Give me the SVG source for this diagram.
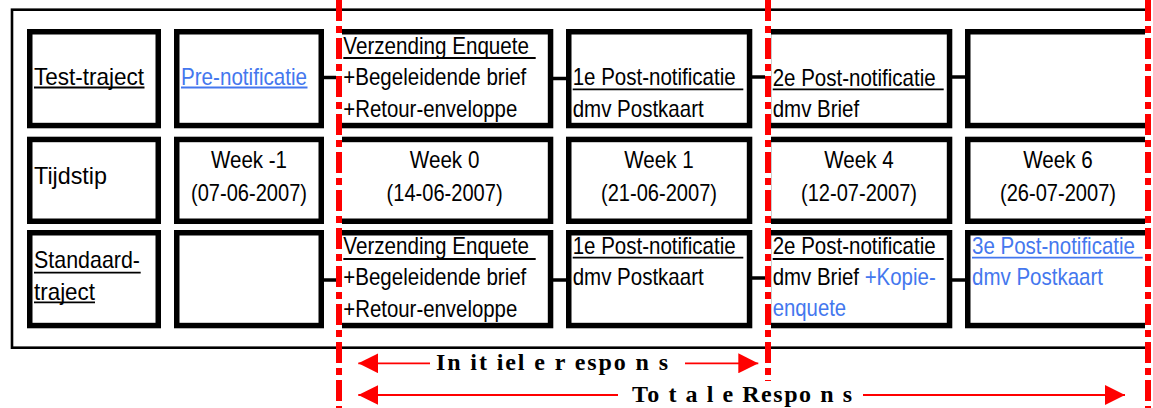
<svg xmlns="http://www.w3.org/2000/svg" width="1153" height="408" viewBox="0 0 1153 408">
<defs>
<style>
.box{fill:#fff;stroke:#000;stroke-width:5.5}
.con{stroke:#000;stroke-width:3.5;fill:none}
.t{font-family:'Liberation Sans',Arial,sans-serif;font-size:24px;fill:#000}
.b{fill:#4477EE}
.c{text-anchor:middle}
.ul{stroke:#000;stroke-width:1.8}
.ulb{stroke:#4477EE;stroke-width:1.8}
.red{stroke:#FF0000;stroke-width:6;stroke-dasharray:21 5 7 5;fill:none}
.wht{stroke:#fff;stroke-width:6}
.arr{stroke:#FF0000;stroke-width:1.8;fill:none}
.bt{font-family:'Liberation Serif','Times New Roman',serif;font-weight:bold;font-size:24px;fill:#000}
</style>
<marker id="ah" markerUnits="userSpaceOnUse" markerWidth="20" markerHeight="20" refX="20" refY="10" orient="auto" viewBox="0 0 20 20">
<path d="M0,0 L20,10 L0,20 z" fill="#FF0000"/>
</marker>
</defs>
<rect width="1153" height="408" fill="#fff"/>
<rect x="12" y="9.7" width="1137" height="338" fill="none" stroke="#000" stroke-width="2.6"/>

<g id="connectors">
<line class="con" x1="324" y1="77.5" x2="337" y2="77.5"/>
<line class="con" x1="553" y1="78.5" x2="567" y2="78.5"/>
<line class="con" x1="752" y1="77" x2="766" y2="77"/>
<line class="con" x1="952" y1="77" x2="966" y2="77"/>
<line class="con" x1="324" y1="280" x2="337" y2="280"/>
<line class="con" x1="553" y1="280" x2="567" y2="280"/>
<line class="con" x1="752" y1="278" x2="766" y2="278"/>
<line class="con" x1="952" y1="280" x2="966" y2="280"/>
</g>

<g id="n-test-traject">
<rect class="box" x="29.75" y="31.75" width="128.5" height="93.8"/>
<text class="t" x="34" y="85" textLength="110" lengthAdjust="spacingAndGlyphs">Test-traject</text>
<line class="ul" x1="34" y1="87.5" x2="144.5" y2="87.5"/>
</g>
<g id="n-pre-notificatie">
<rect class="box" x="176.75" y="31.75" width="144.5" height="93.8"/>
<text class="t b" x="181" y="85" textLength="126" lengthAdjust="spacingAndGlyphs">Pre-notificatie</text>
<line class="ulb" x1="181" y1="87.5" x2="307.5" y2="87.5"/>
</g>
<g id="n-test-verzending">
<rect class="box" x="338.75" y="31.75" width="211.8" height="93.8"/>
<text class="t" x="343.3" y="53.5" textLength="185.7" lengthAdjust="spacingAndGlyphs">Verzending Enquete</text>
<line class="ul" x1="343.3" y1="58" x2="535.7" y2="58"/>
<text class="t" x="343.3" y="85" textLength="183" lengthAdjust="spacingAndGlyphs">+Begeleidende brief</text>
<text class="t" x="343.3" y="116.5" textLength="174" lengthAdjust="spacingAndGlyphs">+Retour-enveloppe</text>
</g>
<g id="n-test-post1">
<rect class="box" x="568.75" y="31.75" width="180.8" height="93.8"/>
<text class="t" x="572.7" y="85" textLength="163" lengthAdjust="spacingAndGlyphs">1e Post-notificatie</text>
<line class="ul" x1="572.7" y1="89.3" x2="743.3" y2="89.3"/>
<text class="t" x="572.7" y="116.5" textLength="131" lengthAdjust="spacingAndGlyphs">dmv Postkaart</text>
</g>
<g id="n-test-post2">
<rect class="box" x="768.45" y="31.75" width="181.1" height="93.8"/>
<text class="t" x="772.7" y="85.5" textLength="163" lengthAdjust="spacingAndGlyphs">2e Post-notificatie</text>
<line class="ul" x1="772.7" y1="89.3" x2="943.7" y2="89.3"/>
<text class="t" x="772.7" y="116.5" textLength="86.5" lengthAdjust="spacingAndGlyphs">dmv Brief</text>
</g>
<g id="n-test-empty">
<rect class="box" x="967.75" y="31.75" width="180.5" height="93.8"/>
</g>

<g id="n-tijdstip">
<rect class="box" x="29.75" y="139.45" width="128.5" height="81.8"/>
<text class="t" x="34" y="184" textLength="73" lengthAdjust="spacingAndGlyphs">Tijdstip</text>
</g>
<g id="n-week-1">
<rect class="box" x="176.75" y="139.45" width="144.5" height="81.8"/>
<text class="t c" x="249" y="168.3" textLength="76" lengthAdjust="spacingAndGlyphs">Week -1</text>
<text class="t c" x="249" y="200.5" textLength="116" lengthAdjust="spacingAndGlyphs">(07-06-2007)</text>
</g>
<g id="n-week0">
<rect class="box" x="338.75" y="139.45" width="211.8" height="81.8"/>
<text class="t c" x="444.6" y="168.3" textLength="69.5" lengthAdjust="spacingAndGlyphs">Week 0</text>
<text class="t c" x="444.6" y="200.5" textLength="116" lengthAdjust="spacingAndGlyphs">(14-06-2007)</text>
</g>
<g id="n-week1">
<rect class="box" x="568.75" y="139.45" width="180.8" height="81.8"/>
<text class="t c" x="659" y="168.3" textLength="69.5" lengthAdjust="spacingAndGlyphs">Week 1</text>
<text class="t c" x="659" y="200.5" textLength="116" lengthAdjust="spacingAndGlyphs">(21-06-2007)</text>
</g>
<g id="n-week4">
<rect class="box" x="768.45" y="139.45" width="181.1" height="81.8"/>
<text class="t c" x="859" y="168.3" textLength="69.5" lengthAdjust="spacingAndGlyphs">Week 4</text>
<text class="t c" x="859" y="200.5" textLength="116" lengthAdjust="spacingAndGlyphs">(12-07-2007)</text>
</g>
<g id="n-week6">
<rect class="box" x="967.75" y="139.45" width="180.5" height="81.8"/>
<text class="t c" x="1058" y="168.3" textLength="69.5" lengthAdjust="spacingAndGlyphs">Week 6</text>
<text class="t c" x="1058" y="200.5" textLength="116" lengthAdjust="spacingAndGlyphs">(26-07-2007)</text>
</g>

<g id="n-standaard-traject">
<rect class="box" x="29.75" y="232.75" width="128.5" height="92.8"/>
<text class="t" x="34" y="268.3" textLength="106" lengthAdjust="spacingAndGlyphs">Standaard-</text>
<line class="ul" x1="34" y1="272.7" x2="140.7" y2="272.7"/>
<text class="t" x="34" y="299.8" textLength="61" lengthAdjust="spacingAndGlyphs">traject</text>
<line class="ul" x1="34" y1="302.3" x2="95" y2="302.3"/>
</g>
<g id="n-std-empty">
<rect class="box" x="176.75" y="232.75" width="144.5" height="92.8"/>
</g>
<g id="n-std-verzending">
<rect class="box" x="338.75" y="232.75" width="211.8" height="92.8"/>
<text class="t" x="343.3" y="253.5" textLength="185.7" lengthAdjust="spacingAndGlyphs">Verzending Enquete</text>
<line class="ul" x1="343.3" y1="259" x2="535.7" y2="259"/>
<text class="t" x="343.3" y="285" textLength="183" lengthAdjust="spacingAndGlyphs">+Begeleidende brief</text>
<text class="t" x="343.3" y="316.5" textLength="174" lengthAdjust="spacingAndGlyphs">+Retour-enveloppe</text>
</g>
<g id="n-std-post1">
<rect class="box" x="568.75" y="232.75" width="180.8" height="92.8"/>
<text class="t" x="572.7" y="253.5" textLength="163" lengthAdjust="spacingAndGlyphs">1e Post-notificatie</text>
<line class="ul" x1="572.7" y1="257.7" x2="743.3" y2="257.7"/>
<text class="t" x="572.7" y="285" textLength="131" lengthAdjust="spacingAndGlyphs">dmv Postkaart</text>
</g>
<g id="n-std-post2">
<rect class="box" x="768.45" y="232.75" width="181.1" height="92.8"/>
<text class="t" x="772.7" y="253.5" textLength="163" lengthAdjust="spacingAndGlyphs">2e Post-notificatie</text>
<line class="ul" x1="772.7" y1="259" x2="943.7" y2="259"/>
<text class="t" x="772.7" y="284.5" textLength="163" lengthAdjust="spacingAndGlyphs">dmv Brief <tspan class="b">+Kopie-</tspan></text>
<text class="t b" x="772.7" y="315.5" textLength="73.5" lengthAdjust="spacingAndGlyphs">enquete</text>
</g>
<g id="n-std-post3">
<rect class="box" x="967.75" y="232.75" width="180.5" height="92.8"/>
<text class="t b" x="972" y="253.5" textLength="163" lengthAdjust="spacingAndGlyphs">3e Post-notificatie</text>
<line class="ulb" x1="972" y1="257.7" x2="1142.7" y2="257.7"/>
<text class="t b" x="972" y="284.5" textLength="131" lengthAdjust="spacingAndGlyphs">dmv Postkaart</text>
</g>

<g id="markers-lines">
<line class="wht" x1="339" y1="0" x2="339" y2="408"/>
<line class="red" x1="339" y1="0" x2="339" y2="408"/>
<line class="wht" x1="768" y1="0" x2="768" y2="381"/>
<line class="red" x1="768" y1="0" x2="768" y2="381"/>
<line class="wht" x1="1148" y1="0" x2="1148" y2="408"/>
<line class="red" x1="1148" y1="0" x2="1148" y2="408"/>
</g>

<g id="response-arrows">
<line class="arr" x1="430" y1="363.3" x2="358.3" y2="363.3" marker-end="url(#ah)"/>
<line class="arr" x1="685" y1="363.3" x2="758.3" y2="363.3" marker-end="url(#ah)"/>
<text class="bt" x="436" y="370" textLength="232" lengthAdjust="spacing">In it iel e r espo n s</text>
<line class="arr" x1="618" y1="395" x2="358.3" y2="395" marker-end="url(#ah)"/>
<line class="arr" x1="863" y1="395" x2="1125" y2="395" marker-end="url(#ah)"/>
<text class="bt" x="632" y="401.5" textLength="220" lengthAdjust="spacing">To t a l e Respo n s</text>
</g>
</svg>
